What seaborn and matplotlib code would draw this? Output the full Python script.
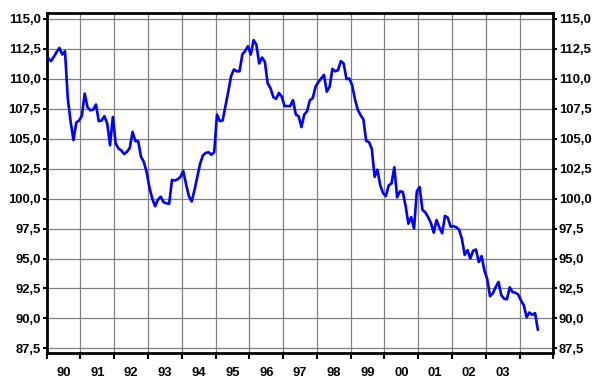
import numpy as np
import pandas as pd
import matplotlib
matplotlib.use("Agg")
import matplotlib.pyplot as plt
import seaborn as sns
from matplotlib.ticker import FuncFormatter, FixedLocator, FixedFormatter, NullFormatter

# Monthly index, January 1990 onwards
start_year = 1990
index_values = [
    # 1990
    111.7, 111.45, 111.8, 112.2, 112.55, 112.0, 112.27, 108.3, 106.4, 104.86, 106.33, 106.5,
    # 1991
    106.9, 108.75, 107.6, 107.35, 107.4, 107.83, 106.44, 106.5, 106.86, 106.25, 104.44, 106.8,
    # 1992
    104.58, 104.17, 104.0, 103.7, 103.9, 104.2, 105.55, 104.78, 104.78, 103.47, 103.05, 102.2,
    # 1993
    100.9, 100.0, 99.35, 99.9, 100.15, 99.7, 99.6, 99.55, 101.55, 101.5, 101.6, 101.8,
    # 1994
    102.3, 101.2, 100.2, 99.75, 100.7, 101.8, 102.9, 103.6, 103.8, 103.85, 103.65, 103.85,
    # 1995
    107.0, 106.45, 106.5, 107.7, 108.9, 110.2, 110.75, 110.6, 110.6, 112.0, 112.3, 112.7,
    # 1996
    112.0, 113.2, 112.8, 111.25, 111.75, 111.4, 109.6, 109.2, 108.45, 108.3, 108.8, 108.5,
    # 1997
    107.7, 107.7, 107.7, 108.2, 107.0, 106.85, 105.95, 107.0, 107.27, 108.2, 108.35, 109.3,
    # 1998
    109.7, 110.0, 110.3, 108.9, 109.3, 110.8, 110.6, 110.7, 111.45, 111.25, 109.95, 110.0,
    # 1999
    109.45, 108.3, 107.4, 106.95, 106.6, 104.8, 104.7, 104.15, 101.8, 102.4, 101.1, 100.45,
    # 2000
    100.2, 101.1, 101.25, 102.6, 100.1, 100.6, 100.55, 99.4, 97.9, 98.45, 97.5, 100.6,
    # 2001
    100.95, 99.05, 98.85, 98.45, 97.95, 97.15, 98.2, 97.6, 97.1, 98.55, 98.4, 97.65,
    # 2002
    97.7, 97.6, 97.4, 96.65, 95.3, 95.7, 95.0, 95.65, 95.75, 94.7, 95.2, 94.0,
    # 2003
    93.3, 91.85, 92.1, 92.6, 93.05, 91.95, 91.65, 91.6, 92.6, 92.2, 92.15, 92.0,
    # 2004
    91.5, 91.1, 90.1, 90.5, 90.3, 90.45, 89.05,
]
year_labels = ["90", "91", "92", "93", "94", "95", "96", "97", "98", "99",
               "00", "01", "02", "03"]
y_ticks = [87.5, 90.0, 92.5, 95.0, 97.5, 100.0, 102.5, 105.0, 107.5, 110.0, 112.5, 115.0]

sns.set_theme(style="white")
plt.rcParams["font.family"] = ["Liberation Sans", "DejaVu Sans"]
plt.rcParams["font.weight"] = "bold"

months = np.arange(len(index_values))
df = pd.DataFrame({
    "year": start_year + (months + 0.5) / 12.0,
    "index": index_values,
})

fig = plt.figure(figsize=(5.92, 3.81), dpi=100)
ax = fig.add_axes([0.0789, 0.0735, 0.8558, 0.8924])

sns.lineplot(data=df, x="year", y="index", ax=ax, color="#0000ff",
             linewidth=1.9, zorder=3)

ax.set_xlim(1990, 2005)
ax.set_ylim(87.125, 115.46)

ax.yaxis.set_major_locator(FixedLocator(y_ticks))
ax.yaxis.set_major_formatter(FuncFormatter(lambda v, p: f"{v:.1f}".replace(".", ",")))

ax.xaxis.set_major_locator(FixedLocator(list(range(1990, 2006))))
ax.xaxis.set_major_formatter(NullFormatter())
ax.xaxis.set_minor_locator(FixedLocator([start_year + k + 0.5 for k in range(len(year_labels))]))
ax.xaxis.set_minor_formatter(FixedFormatter(year_labels))

ax.grid(True, which="major", color="#808080", linewidth=0.9)
ax.set_axisbelow(True)

ax.tick_params(axis="y", which="major", left=True, right=True, labelleft=True,
               labelright=True, direction="out", length=3, width=1.5, pad=1,
               labelsize=9.4, colors="black")
ax.tick_params(axis="x", which="major", bottom=True, direction="out", length=4,
               width=1.5, colors="black")
ax.tick_params(axis="x", which="minor", bottom=True, length=0, pad=10,
               labelsize=9.4, labelcolor="black")

for spine in ax.spines.values():
    spine.set_visible(True)
    spine.set_color("black")
    spine.set_linewidth(2)

ax.set_xlabel("")
ax.set_ylabel("")

fig.savefig("out.png", dpi=100)
